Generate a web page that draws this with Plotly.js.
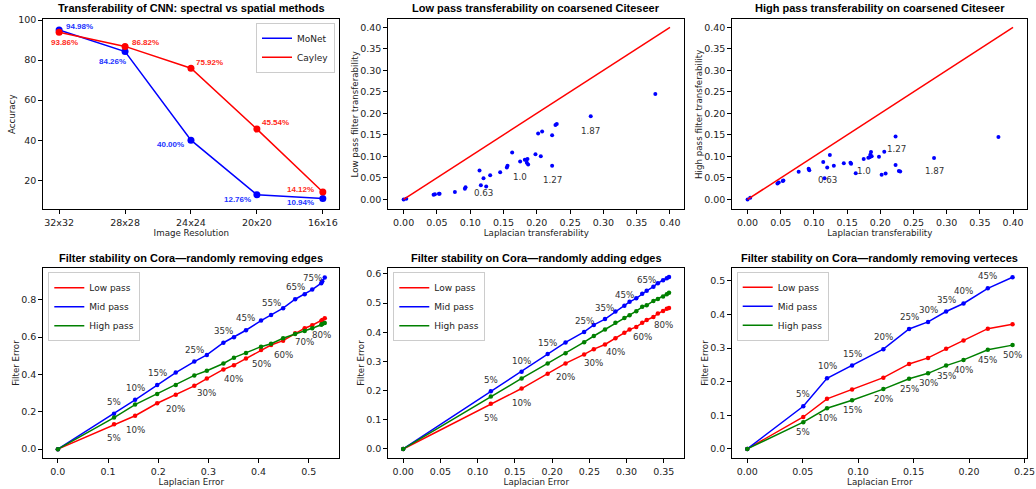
<!DOCTYPE html>
<html>
<head>
<meta charset="utf-8">
<script src="https://cdn.plot.ly/plotly-3.0.1.min.js"></script>
<style>html,body{margin:0;padding:0;background:#fff;}#chart{width:1036px;height:489px;}</style>
</head>
<body>
<div id="chart"></div>
<script>
// ---------- Panel 1: CNN transferability ----------
const resolutions = ['32x32', '28x28', '24x24', '20x20', '16x16'];
const monetAcc = [94.98, 84.26, 40.00, 12.76, 10.94];
const cayleyAcc = [93.86, 86.82, 75.92, 45.54, 14.12];

// ---------- Panels 2-3: coarsened Citeseer ----------
const lapTransfer = [0, 0.004, 0.045, 0.047, 0.053, 0.054, 0.077, 0.092, 0.093, 0.114, 0.116, 0.120, 0.124, 0.130, 0.145, 0.155, 0.156, 0.163, 0.175, 0.182, 0.184, 0.185, 0.186, 0.187, 0.198, 0.202, 0.206, 0.208, 0.223, 0.223, 0.228, 0.230, 0.281, 0.378];
const lowPassTransfer = [0, 0.0016, 0.011, 0.012, 0.013, 0.013, 0.017, 0.025, 0.028, 0.067, 0.033, 0.049, 0.030, 0.056, 0.063, 0.074, 0.078, 0.109, 0.088, 0.092, 0.092, 0.085, 0.094, 0.081, 0.105, 0.153, 0.100, 0.158, 0.149, 0.078, 0.173, 0.175, 0.193, 0.245];
const highPassTransfer = [0, 0.004, 0.037, 0.039, 0.043, 0.044, 0.064, 0.071, 0.068, 0.087, 0.049, 0.074, 0.103, 0.078, 0.084, 0.085, 0.083, 0.061, 0.094, 0.097, 0.098, 0.104, 0.110, 0.100, 0.099, 0.057, 0.111, 0.060, 0.146, 0.080, 0.066, 0.065, 0.096, 0.145];
const identityX = [0, 0.4];
const identityY = [0, 0.4];
const ratioLabels = ['0.63', '1.0', '1.27', '1.87'];
const ratioLabelX = [0.120, 0.175, 0.224, 0.281];
const lowRatioLabelY = [0.015, 0.052, 0.044, 0.159];
const highRatioLabelY = [0.044, 0.065, 0.117, 0.067];

// ---------- Panel 4: randomly removing edges ----------
const remEdgePct = [0, 5, 10, 15, 20, 25, 30, 35, 40, 45, 50, 55, 60, 65, 70, 75, 80, 85, 90];
const remEdgeLap = [0, 0.112, 0.154, 0.198, 0.235, 0.272, 0.297, 0.330, 0.351, 0.375, 0.405, 0.425, 0.449, 0.473, 0.492, 0.507, 0.525, 0.527, 0.532];
const remEdgeLow = [0, 0.133, 0.179, 0.246, 0.292, 0.339, 0.378, 0.427, 0.450, 0.486, 0.531, 0.558, 0.581, 0.621, 0.648, 0.664, 0.687, 0.692, 0.701];
const remEdgeMid = [0, 0.190, 0.264, 0.343, 0.410, 0.469, 0.505, 0.570, 0.600, 0.637, 0.689, 0.718, 0.755, 0.803, 0.830, 0.855, 0.889, 0.900, 0.920];
const remEdgeHigh = [0, 0.169, 0.239, 0.296, 0.343, 0.395, 0.420, 0.459, 0.490, 0.515, 0.549, 0.565, 0.594, 0.617, 0.633, 0.648, 0.666, 0.671, 0.676];
const remEdgeMidLabeled = [5, 10, 15, 25, 35, 45, 55, 65, 75];
const remEdgeLowLabeled = [5, 10, 20, 30, 40, 50, 60, 70, 80];

// ---------- Panel 5: randomly adding edges ----------
const addEdgePct = [0, 5, 10, 15, 20, 25, 30, 35, 40, 45, 50, 55, 60, 65, 70, 75, 80, 85, 90];
const addEdgeLap = [0, 0.1177, 0.159, 0.194, 0.218, 0.243, 0.256, 0.271, 0.285, 0.297, 0.304, 0.313, 0.321, 0.327, 0.336, 0.342, 0.349, 0.354, 0.357];
const addEdgeLow = [0, 0.155, 0.207, 0.258, 0.293, 0.324, 0.342, 0.358, 0.379, 0.398, 0.409, 0.418, 0.432, 0.442, 0.452, 0.464, 0.473, 0.480, 0.483];
const addEdgeMid = [0, 0.198, 0.2645, 0.325, 0.365, 0.401, 0.425, 0.445, 0.471, 0.491, 0.504, 0.516, 0.532, 0.542, 0.556, 0.568, 0.578, 0.585, 0.589];
const addEdgeHigh = [0, 0.180, 0.2416, 0.293, 0.3275, 0.366, 0.387, 0.409, 0.432, 0.449, 0.458, 0.472, 0.487, 0.492, 0.507, 0.514, 0.522, 0.530, 0.535];
const addEdgeMidLabeled = [5, 10, 15, 25, 35, 45, 65];
const addEdgeLowLabeled = [5, 10, 20, 30, 40, 60, 80];

// ---------- Panel 6: randomly removing vertices ----------
const remVertPct = [0, 5, 10, 15, 20, 25, 30, 35, 40, 45, 50];
const remVertLap = [0, 0.0505, 0.0719, 0.0945, 0.1227, 0.1459, 0.163, 0.1793, 0.195, 0.2169, 0.2392];
const remVertLow = [0, 0.095, 0.149, 0.177, 0.212, 0.253, 0.271, 0.298, 0.323, 0.358, 0.371];
const remVertMid = [0, 0.127, 0.210, 0.248, 0.297, 0.357, 0.378, 0.409, 0.433, 0.478, 0.511];
const remVertHigh = [0, 0.0795, 0.121, 0.145, 0.178, 0.209, 0.225, 0.248, 0.265, 0.295, 0.309];
const remVertMidLabeled = [5, 10, 15, 20, 25, 30, 35, 40, 45];
const remVertHighLabeled = [5, 10, 15, 20, 25, 30, 35, 40, 45, 50];

const titles = [
  'Transferability of CNN: spectral vs spatial methods',
  'Low pass transferability on coarsened Citeseer',
  'High pass transferability on coarsened Citeseer',
  'Filter stability on Cora\u2014randomly removing edges',
  'Filter stability on Cora\u2014randomly adding edges',
  'Filter stability on Cora\u2014randomly removing verteces'
];

// ---------- styling ----------
const BLUE = '#0000ff', RED = '#ff0000', GREEN = '#008000';
const TICKFONT = {family: 'DejaVu Sans', size: 9.5, color: '#222'};
const AXTITLEFONT = {family: 'DejaVu Sans', size: 8.7, color: '#222'};
const LABELFONT = {family: 'DejaVu Sans', size: 8.7, color: '#333'};
const W = 1036, H = 489;
const colDom = [[43.3, 339.3], [388.3, 684.3], [732.3, 1027.3]].map(d => [d[0] / W, d[1] / W]);
const rowDom = [[19.3, 209.3], [267.7, 458.3]].map(d => [1 - d[1] / H, 1 - d[0] / H]);

function axis(extra) {
  return Object.assign({
    showline: true, mirror: true, linecolor: '#000', linewidth: 1,
    ticks: 'outside', ticklen: 4, tickwidth: 1, tickcolor: '#000',
    showgrid: false, zeroline: false, tickfont: TICKFONT, automargin: false
  }, extra);
}
function xt(t, s) { return {text: t, font: AXTITLEFONT, standoff: s}; }

const traces = [];
// Panel 1
traces.push({x: resolutions, y: monetAcc, mode: 'lines', name: 'MoNet', line: {color: BLUE, width: 1.5}, xaxis: 'x', yaxis: 'y', legend: 'legend'});
traces.push({x: resolutions, y: cayleyAcc, mode: 'lines', name: 'Cayley', line: {color: RED, width: 1.5}, xaxis: 'x', yaxis: 'y', legend: 'legend'});
traces.push({x: resolutions, y: monetAcc, mode: 'markers', showlegend: false, marker: {color: BLUE, size: 7}, xaxis: 'x', yaxis: 'y'});
traces.push({x: resolutions, y: cayleyAcc, mode: 'markers', showlegend: false, marker: {color: RED, size: 7}, xaxis: 'x', yaxis: 'y'});
// Panels 2-3
[[lowPassTransfer, '2'], [highPassTransfer, '3']].forEach(([ys, k]) => {
  traces.push({x: lapTransfer, y: ys, mode: 'markers', showlegend: false, marker: {color: BLUE, size: 4}, xaxis: 'x' + k, yaxis: 'y' + k});
  traces.push({x: identityX, y: identityY, mode: 'lines', showlegend: false, line: {color: RED, width: 1.5}, xaxis: 'x' + k, yaxis: 'y' + k});
});
// Panels 4-6
const stab = [
  [remEdgeLap, remEdgeLow, remEdgeMid, remEdgeHigh, '4', 'legend2'],
  [addEdgeLap, addEdgeLow, addEdgeMid, addEdgeHigh, '5', 'legend3'],
  [remVertLap, remVertLow, remVertMid, remVertHigh, '6', 'legend4']
];
stab.forEach(([lx, lo, mi, hi, k, lg]) => {
  [[lo, 'Low pass', RED], [mi, 'Mid pass', BLUE], [hi, 'High pass', GREEN]].forEach(([ys, nm, c]) => {
    traces.push({x: lx, y: ys, mode: 'lines', name: nm, line: {color: c, width: 1.5}, xaxis: 'x' + k, yaxis: 'y' + k, legend: lg});
    traces.push({x: lx, y: ys, mode: 'markers', showlegend: false, marker: {color: c, size: 4.5}, xaxis: 'x' + k, yaxis: 'y' + k});
  });
});

// ---------- annotations ----------
const ann = [];
const titleY = [1 - 8.3 / H, 1 - 258.3 / H];
titles.forEach((t, i) => {
  const c = colDom[i % 3];
  ann.push({text: '<b>' + t + '</b>', xref: 'paper', yref: 'paper', x: (c[0] + c[1]) / 2, y: titleY[Math.floor(i / 3)],
    xanchor: 'center', yanchor: 'middle', showarrow: false, font: {family: 'Liberation Sans', size: 11, color: '#000'}});
});
// panel 1 value labels
const monetOff = [[20, -4], [-13, 10], [-20, 4], [-19, 5], [-22, 4]];
const cayleyOff = [[5, 10], [20, -4], [19, -6], [19, -7], [-22, -3]];
resolutions.forEach((r, i) => {
  ann.push({x: r, y: monetAcc[i], xref: 'x', yref: 'y', text: '<b>' + monetAcc[i].toFixed(2) + '%</b>', showarrow: false,
    xshift: monetOff[i][0], yshift: -monetOff[i][1], font: {family: 'Liberation Sans', size: 8, color: '#2233ff'}});
  ann.push({x: r, y: cayleyAcc[i], xref: 'x', yref: 'y', text: '<b>' + cayleyAcc[i].toFixed(2) + '%</b>', showarrow: false,
    xshift: cayleyOff[i][0], yshift: -cayleyOff[i][1], font: {family: 'Liberation Sans', size: 8, color: '#ff2a1a'}});
});
// ratio labels
ratioLabels.forEach((t, i) => {
  ann.push({x: ratioLabelX[i], y: lowRatioLabelY[i], xref: 'x2', yref: 'y2', text: t, showarrow: false, font: LABELFONT});
  ann.push({x: ratioLabelX[i], y: highRatioLabelY[i], xref: 'x3', yref: 'y3', text: t, showarrow: false, font: LABELFONT});
});
// percentage labels
function pctLabels(pcts, lap, ys, which, k, shift) {
  which.forEach(p => {
    const i = pcts.indexOf(p);
    ann.push({x: lap[i], y: ys[i], xref: 'x' + k, yref: 'y' + k, text: p + '%', showarrow: false, yshift: shift, font: LABELFONT});
  });
}
pctLabels(remEdgePct, remEdgeLap, remEdgeMid, remEdgeMidLabeled, '4', 12);
pctLabels(remEdgePct, remEdgeLap, remEdgeLow, remEdgeLowLabeled, '4', -14);
pctLabels(addEdgePct, addEdgeLap, addEdgeMid, addEdgeMidLabeled, '5', 11);
pctLabels(addEdgePct, addEdgeLap, addEdgeLow, addEdgeLowLabeled, '5', -14);
pctLabels(remVertPct, remVertLap, remVertMid, remVertMidLabeled, '6', 12);
pctLabels(remVertPct, remVertLap, remVertHigh, remVertHighLabeled, '6', -10);

const legendBase = {bgcolor: 'rgba(255,255,255,0.8)', bordercolor: '#cccccc', borderwidth: 1,
  font: {family: 'DejaVu Sans', size: 9, color: '#222'}, itemwidth: 30, tracegroupgap: 0};

const layout = {
  width: W, height: H, margin: {l: 0, r: 0, t: 0, b: 0}, paper_bgcolor: '#fff', plot_bgcolor: '#fff',
  showlegend: true,
  xaxis: axis({domain: colDom[0], anchor: 'y', type: 'category', range: [-0.24, 4.25], title: xt('Image Resolution', 1)}),
  yaxis: axis({domain: rowDom[0], anchor: 'x', range: [5.5, 100.35], tickvals: [20, 40, 60, 80, 100], title: xt('Accuracy', 1)}),
  xaxis2: axis({domain: colDom[1], anchor: 'y2', range: [-0.023, 0.4215], dtick: 0.05, tick0: 0, tickformat: '.2f', title: xt('Laplacian transferability', 1)}),
  yaxis2: axis({domain: rowDom[0], anchor: 'x2', range: [-0.023, 0.4185], dtick: 0.05, tick0: 0, tickformat: '.2f', title: xt('Low pass filter transferability', 0)}),
  xaxis3: axis({domain: colDom[2], anchor: 'y3', range: [-0.023, 0.4215], dtick: 0.05, tick0: 0, tickformat: '.2f', title: xt('Laplacian transferability', 1)}),
  yaxis3: axis({domain: rowDom[0], anchor: 'x3', range: [-0.023, 0.4185], dtick: 0.05, tick0: 0, tickformat: '.2f', title: xt('High pass filter transferability', 0)}),
  xaxis4: axis({domain: colDom[0], anchor: 'y4', range: [-0.029, 0.561], dtick: 0.1, tick0: 0, tickformat: '.1f', title: xt('Laplacian Error', 1)}),
  yaxis4: axis({domain: rowDom[1], anchor: 'x4', range: [-0.049, 0.972], dtick: 0.2, tick0: 0, tickformat: '.1f', title: xt('Filter Error', 0)}),
  xaxis5: axis({domain: colDom[1], anchor: 'y5', range: [-0.02, 0.3775], dtick: 0.05, tick0: 0, tickformat: '.2f', title: xt('Laplacian Error', 1)}),
  yaxis5: axis({domain: rowDom[1], anchor: 'x5', range: [-0.032, 0.621], dtick: 0.1, tick0: 0, tickformat: '.1f', title: xt('Filter Error', 0)}),
  xaxis6: axis({domain: colDom[2], anchor: 'y6', range: [-0.0135, 0.2525], dtick: 0.05, tick0: 0, tickformat: '.2f', title: xt('Laplacian Error', 1)}),
  yaxis6: axis({domain: rowDom[1], anchor: 'x6', range: [-0.028, 0.5395], dtick: 0.1, tick0: 0, tickformat: '.1f', title: xt('Filter Error', 0)}),
  legend: Object.assign({}, legendBase, {x: 335 / W, xanchor: 'right', y: 1 - 22.7 / H, yanchor: 'top'}),
  legend2: Object.assign({}, legendBase, {x: 48.3 / W, xanchor: 'left', y: 1 - 272.3 / H, yanchor: 'top'}),
  legend3: Object.assign({}, legendBase, {x: 393.3 / W, xanchor: 'left', y: 1 - 272.3 / H, yanchor: 'top'}),
  legend4: Object.assign({}, legendBase, {x: 736.7 / W, xanchor: 'left', y: 1 - 271.7 / H, yanchor: 'top'}),
  annotations: ann
};

Plotly.newPlot('chart', traces, layout, {staticPlot: true, displayModeBar: false});
</script>
</body>
</html>
